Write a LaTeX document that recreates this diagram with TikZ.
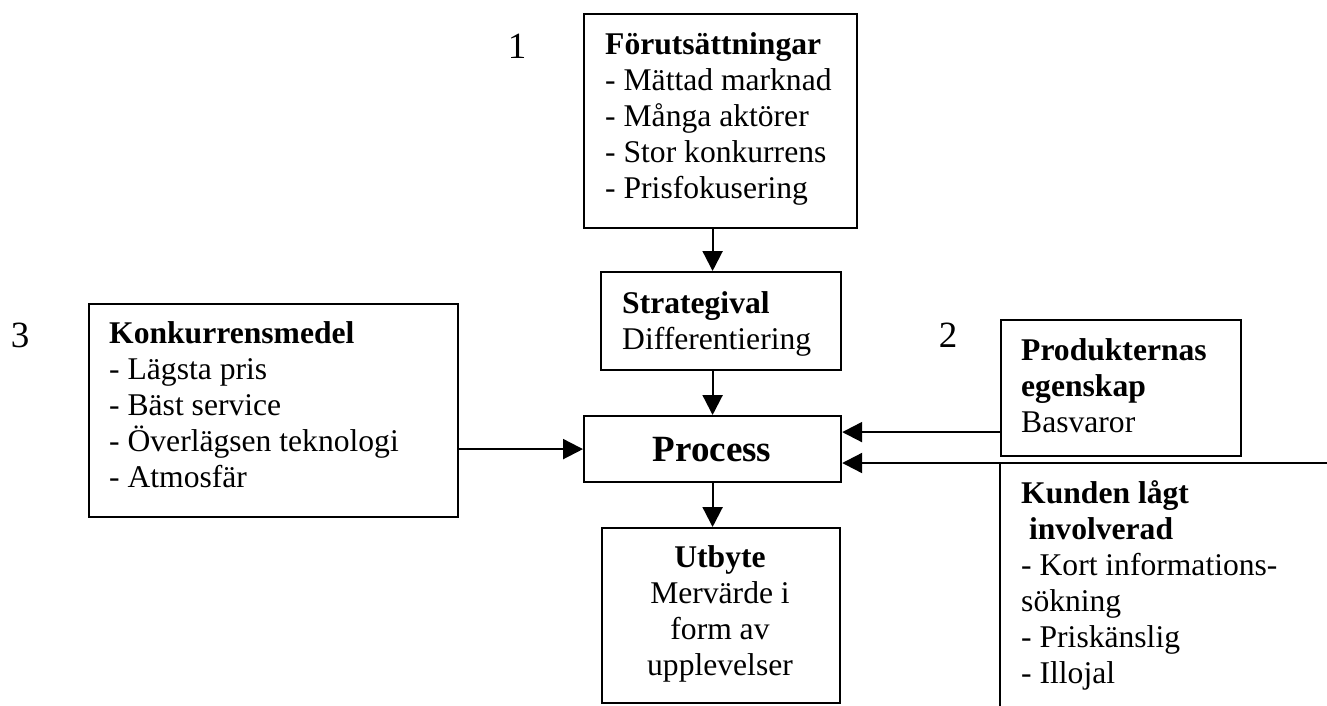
\documentclass[tikz,border=0pt]{standalone}
\usepackage{fontspec}
\setmainfont{Liberation Serif}
\usetikzlibrary{arrows.meta,calc}
\begin{document}
\begin{tikzpicture}[x=1pt,y=-1pt,
  box/.style={draw,line width=2.2pt,inner sep=0pt,anchor=north west},
  edge/.style={line width=2.2pt},
  txt/.style={inner sep=0pt,anchor=base west,align=left,font=\fontsize{31.6}{36}\selectfont},
  ctxt/.style={inner sep=0pt,anchor=base,align=center,font=\fontsize{31.6}{36}\selectfont},
  lbl/.style={inner sep=0pt,anchor=base,font=\fontsize{37}{42}\selectfont},
  arr/.style={line width=2.2pt,-{Triangle[length=20pt,width=20pt]}}]
\useasboundingbox (0,0) rectangle (1327,706);

% boxes
\node[box,minimum width=273pt,minimum height=214pt] (f) at (583,13) {};
\node[box,minimum width=240pt,minimum height=98pt] (s) at (600,271) {};
\node[box,minimum width=257pt,minimum height=66pt] (p) at (583,415) {};
\node[box,minimum width=238pt,minimum height=175pt] (u) at (601,527) {};
\node[box,minimum width=369pt,minimum height=213pt] (k) at (88,303) {};
\node[box,minimum width=240pt,minimum height=136pt] (pr) at (1000,319) {};
\coordinate (kTR) at (1330,463);
\coordinate (kTL) at (1000,463);
\coordinate (kBL) at (1000,710);
\draw[edge] (kTR) -- (kTL) -- (kBL);

% texts (anchor = baseline of the last line)
\node[txt] (ft) at (605,198) {\textbf{Förutsättningar}\\- Mättad marknad\\- Många aktörer\\- Stor konkurrens\\- Prisfokusering};
\node[txt] (st) at (622,349) {\textbf{Strategival}\\Differentiering};
\node[inner sep=0pt,anchor=base,font=\fontsize{37}{42}\selectfont\bfseries] (pt) at (712,461) {Process};
\node[ctxt] (ut) at (720,675) {\textbf{Utbyte}\\Mervärde i\\form av\\upplevelser};
\node[txt] (kt) at (109,487) {\textbf{Konkurrensmedel}\\- Lägsta pris\\- Bäst service\\- Överlägsen teknologi\\- Atmosfär};
\node[txt] (prt) at (1021,432) {\textbf{Produkternas}\\\textbf{egenskap}\\Basvaror};
\node[txt] (kut) at (1021,683) {\textbf{Kunden lågt}\\\textbf{\ involverad}\\- Kort informations-\\sökning\\- Priskänslig\\- Illojal};

% labels
\node[lbl] (l1) at (517,59) {1};
\node[lbl] (l2) at (948,347) {2};
\node[lbl] (l3) at (20,347) {3};

% connectors
\draw[arr] (f.south -| p.north) -- (s.north -| p.north);
\draw[arr] (s.south -| p.north) -- (p.north);
\draw[arr] (p.south) -- (u.north -| p.south);
\draw[arr] (k.east |- p.west) -- (p.west);
\draw[arr] ([yshift=-44pt]pr.west) -- ([yshift=-44pt]pr.west -| p.east);
\draw[arr] (kTL) -- (kTL -| p.east);
\end{tikzpicture}
\end{document}
